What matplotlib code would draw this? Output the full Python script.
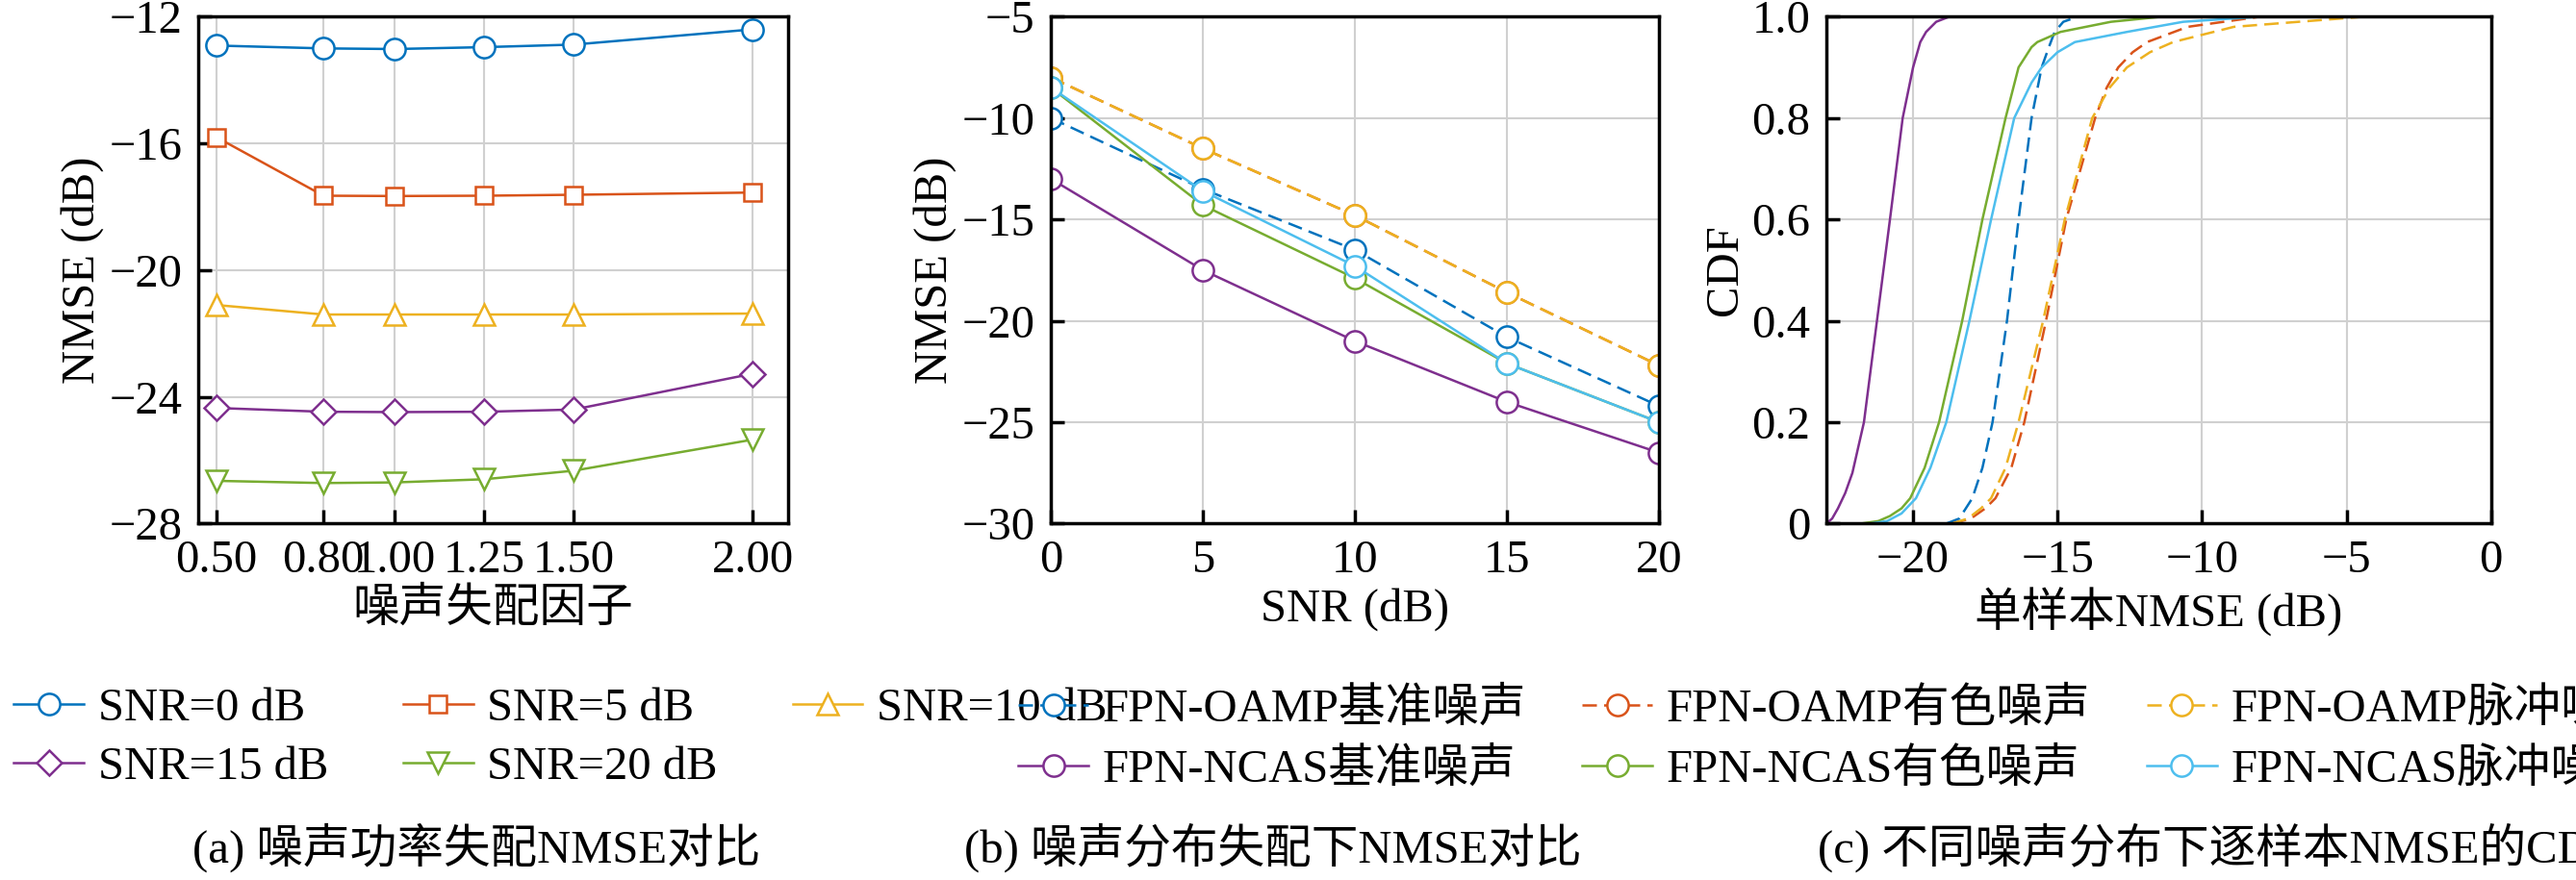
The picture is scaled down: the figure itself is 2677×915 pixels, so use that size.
import matplotlib
matplotlib.use("Agg")
import matplotlib.pyplot as plt

plt.rcParams['font.family'] = ['Liberation Serif', 'Noto Sans CJK SC']
plt.rcParams['axes.unicode_minus'] = True
FS = 35

# ---- panel (a) data
mismatch = [0.5, 0.8, 1.0, 1.25, 1.5, 2.0]
mismatch_labels = ['0.50', '0.80', '1.00', '1.25', '1.50', '2.00']
a_snr0 = [-12.91, -13.0, -13.02, -12.96, -12.88, -12.4]
a_snr5 = [-15.8, -17.65, -17.66, -17.65, -17.62, -17.55]
a_snr10 = [-21.1, -21.4, -21.4, -21.4, -21.4, -21.37]
a_snr15 = [-24.35, -24.47, -24.48, -24.47, -24.4, -23.27]
a_snr20 = [-26.65, -26.72, -26.7, -26.6, -26.33, -25.35]
a_labels = ['SNR=0 dB', 'SNR=5 dB', 'SNR=10 dB', 'SNR=15 dB', 'SNR=20 dB']

# ---- panel (b) data
snr = [0, 5, 10, 15, 20]
b_oamp_base = [-10.0, -13.5, -16.5, -20.8, -24.2]
b_oamp_color = [-8.0, -11.5, -14.8, -18.6, -22.2]
b_oamp_imp = [-8.0, -11.5, -14.8, -18.6, -22.2]
b_ncas_base = [-13.0, -17.5, -21.0, -24.0, -26.5]
b_ncas_color = [-8.5, -14.3, -17.9, -22.1, -25.0]
b_ncas_imp = [-8.5, -13.6, -17.3, -22.1, -25.0]
b_labels = ['FPN-OAMP基准噪声', 'FPN-OAMP有色噪声', 'FPN-OAMP脉冲噪声',
            'FPN-NCAS基准噪声', 'FPN-NCAS有色噪声', 'FPN-NCAS脉冲噪声']

# ---- panel (c) data: (NMSE value, CDF) pairs
c_ncas_base_x = [-23.0, -22.8, -22.6, -22.35, -22.1, -21.7, -21.25, -20.8, -20.36, -20.0, -19.75, -19.55, -19.2, -18.75]
c_ncas_base_y = [0.0, 0.01, 0.03, 0.06, 0.1, 0.2, 0.4, 0.6, 0.8, 0.9, 0.95, 0.97, 0.99, 1.0]
c_ncas_color_x = [-21.8, -21.2, -20.8, -20.4, -20.1, -19.6, -19.1, -18.3, -17.6, -16.8, -16.35, -15.9, -15.7, -14.9, -13.15, -11.4]
c_ncas_color_y = [0.0, 0.005, 0.015, 0.03, 0.05, 0.11, 0.2, 0.4, 0.6, 0.8, 0.9, 0.94, 0.95, 0.97, 0.99, 1.0]
c_ncas_imp_x = [-21.5, -20.9, -20.4, -19.9, -19.4, -18.85, -18.05, -17.3, -16.5, -15.9, -15.55, -15.0, -14.4, -12.6, -10.65, -8.0]
c_ncas_imp_y = [0.0, 0.005, 0.02, 0.05, 0.11, 0.2, 0.4, 0.6, 0.8, 0.87, 0.9, 0.93, 0.95, 0.97, 0.99, 1.0]
c_oamp_base_x = [-18.85, -18.4, -17.95, -17.6, -17.25, -16.75, -16.35, -15.9, -15.55, -15.3, -15.1, -14.8, -14.3]
c_oamp_base_y = [0.0, 0.01, 0.05, 0.11, 0.2, 0.4, 0.6, 0.8, 0.9, 0.94, 0.97, 0.99, 1.0]
c_oamp_color_x = [-18.65, -18.0, -17.5, -17.15, -16.6, -16.15, -15.4, -14.7, -13.7, -13.3, -12.9, -12.4, -11.9, -10.5, -8.0]
c_oamp_color_y = [0.0, 0.01, 0.03, 0.05, 0.11, 0.2, 0.4, 0.6, 0.8, 0.86, 0.9, 0.93, 0.95, 0.98, 1.0]
c_oamp_imp_x = [-18.65, -18.1, -17.65, -17.3, -16.8, -16.35, -15.5, -14.75, -13.8, -13.2, -12.6, -11.8, -11.0, -8.9, -4.4]
c_oamp_imp_y = [0.0, 0.01, 0.03, 0.05, 0.11, 0.2, 0.4, 0.6, 0.8, 0.86, 0.9, 0.93, 0.95, 0.98, 1.0]

blue, orange, yellow, purple, green, cyan = '#0072BD', '#D95319', '#EDB120', '#7E2F8E', '#77AC30', '#4DBEEE'

fig = plt.figure(figsize=(26.77, 9.15), dpi=100)

def style(ax):
    ax.grid(True, color='#d0d0d0', lw=1.5)
    ax.set_axisbelow(True)
    ax.tick_params(labelsize=FS, direction='in', length=10, width=2.5, top=False, right=False, pad=12)
    for s in ax.spines.values():
        s.set_linewidth(2.5)

def reorder(h, ncol):
    # row-major visual order -> matplotlib column-major fill
    rows = (len(h) + ncol - 1) // ncol
    out = []
    for c in range(ncol):
        for r in range(rows):
            i = r * ncol + c
            if i < len(h):
                out.append(h[i])
    return out

# (a)
axa = fig.add_axes([0.077, 0.405, 0.229, 0.576])
mk = dict(ms=16, mfc='white', mew=1.8, lw=1.8)
for ys, c, m, lab in zip([a_snr0, a_snr5, a_snr10, a_snr15, a_snr20],
                         [blue, orange, yellow, purple, green],
                         ['o', 's', '^', 'D', 'v'], a_labels):
    axa.plot(mismatch, ys, color=c, marker=m, label=lab, **(dict(mk, ms=13) if m in 'sD' else mk))
axa.set_xlim(0.45, 2.1)
axa.set_ylim(-28, -12)
axa.set_yticks([-28, -24, -20, -16, -12])
axa.set_xticks(mismatch)
axa.set_xticklabels(mismatch_labels)
axa.set_ylabel('NMSE (dB)', fontsize=FS)
axa.set_xlabel('噪声失配因子', fontsize=FS)
style(axa)
h, l = axa.get_legend_handles_labels()
fig.legend(reorder(h, 3), reorder(l, 3), loc='upper left', bbox_to_anchor=(-0.002, 0.24), ncol=3,
           fontsize=FS, frameon=False, handlelength=1.5, handletextpad=0.3, columnspacing=1.6,
           borderaxespad=0, labelspacing=0.35)

# (b)
axb = fig.add_axes([0.408, 0.405, 0.236, 0.576])
specs = [(b_oamp_base, blue, '--'), (b_oamp_color, orange, '--'), (b_oamp_imp, yellow, '--'),
         (b_ncas_base, purple, '-'), (b_ncas_color, green, '-'), (b_ncas_imp, cyan, '-')]
for (ys, c, ls), lab in zip(specs, b_labels):
    axb.plot(snr, ys, color=c, ls=ls, marker='o', label=lab, dashes=(6, 3) if ls == '--' else (None, None), **mk)
axb.set_xlim(0, 20)
axb.set_ylim(-30, -5)
axb.set_xticks(snr)
axb.set_yticks([-30, -25, -20, -15, -10, -5])
axb.set_ylabel('NMSE (dB)', fontsize=FS)
axb.set_xlabel('SNR (dB)', fontsize=FS)
style(axb)
h, l = axb.get_legend_handles_labels()
fig.legend(reorder(h, 3), reorder(l, 3), loc='upper left', bbox_to_anchor=(0.388, 0.24), ncol=3,
           fontsize=FS, frameon=False, handlelength=1.5, handletextpad=0.3, columnspacing=1.2,
           borderaxespad=0, labelspacing=0.35)

# (c)
axc = fig.add_axes([0.709, 0.405, 0.258, 0.576])
cspecs = [(c_oamp_base_x, c_oamp_base_y, blue, '--'), (c_oamp_color_x, c_oamp_color_y, orange, '--'),
          (c_oamp_imp_x, c_oamp_imp_y, yellow, '--'), (c_ncas_base_x, c_ncas_base_y, purple, '-'),
          (c_ncas_color_x, c_ncas_color_y, green, '-'), (c_ncas_imp_x, c_ncas_imp_y, cyan, '-')]
for xs, ys, c, ls in cspecs:
    axc.plot(xs, ys, color=c, ls=ls, lw=1.8, dashes=(6, 3) if ls == '--' else (None, None))
axc.set_xlim(-23, 0)
axc.set_ylim(0, 1)
axc.set_xticks([-20, -15, -10, -5, 0])
axc.set_yticks([0, 0.2, 0.4, 0.6, 0.8, 1.0])
axc.set_yticklabels(['0', '0.2', '0.4', '0.6', '0.8', '1.0'])
axc.set_ylabel('CDF', fontsize=FS)
axc.set_xlabel('单样本NMSE (dB)', fontsize=FS)
style(axc)

fig.text(0.185, 0.02, '(a) 噪声功率失配NMSE对比', fontsize=FS, ha='center')
fig.text(0.494, 0.02, '(b) 噪声分布失配下NMSE对比', fontsize=FS, ha='center')
fig.text(0.861, 0.02, '(c) 不同噪声分布下逐样本NMSE的CDF', fontsize=FS, ha='center')

fig.savefig('out.png', dpi=100)
